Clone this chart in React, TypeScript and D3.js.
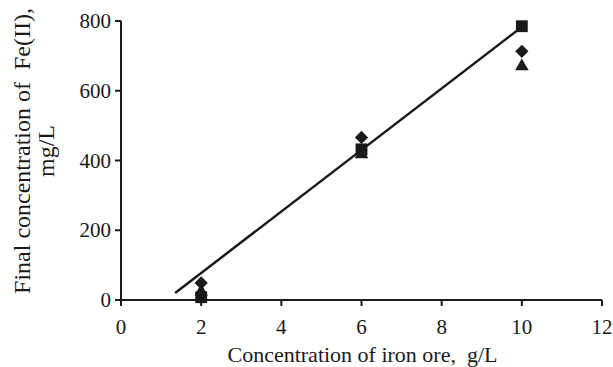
import React from 'react';
import { scaleLinear, symbol, symbolSquare, symbolTriangle, line } from 'd3';

const W = 613;
const H = 367;

// ore concentration, g/L
const categories = [2, 6, 10];
// final Fe(II), mg/L
const seriesDiamond = [49, 466, 713];
const seriesSquare = [8, 432, 785];
const seriesTriangle = [24, 418, 670];
// trend line drawn in the figure
const trendX = [1.35, 10];
const trendY = [20, 783];

const xTicks = [0, 2, 4, 6, 8, 10, 12];
const yTicks = [0, 200, 400, 600, 800];

const margin = { top: 21, right: 11, bottom: 67, left: 121 };

const App = () => {
  const x = scaleLinear().domain([0, 12]).range([margin.left, W - margin.right]);
  const y = scaleLinear().domain([0, 800]).range([H - margin.bottom, margin.top]);
  const font = '"Liberation Serif", "Times New Roman", serif';
  const ink = '#1a1a1a';
  const fs = 21;

  // diamond = square turned 45 degrees, wider than d3's symbolDiamond
  const series = [
    { values: seriesTriangle, path: symbol(symbolTriangle, 80)(), rot: 0 },
    { values: seriesDiamond, path: symbol(symbolSquare, 88)(), rot: 45 },
    { values: seriesSquare, path: symbol(symbolSquare, 140)(), rot: 0 },
  ];

  const trend = line<number>()
    .x((d) => x(d))
    .y((_, i) => y(trendY[i]))(trendX);

  return (
    <svg width={W} height={H} style={{ position: 'absolute', left: 0, top: 0 }} fontFamily={font}>
      <rect width={W} height={H} fill="#fff" />
      {/* axes */}
      <line x1={x(0)} x2={x(12)} y1={y(0)} y2={y(0)} stroke={ink} strokeWidth={2} />
      <line x1={x(0)} x2={x(0)} y1={y(0)} y2={y(800)} stroke={ink} strokeWidth={2} />
      {xTicks.map((t) => (
        <g key={`x${t}`}>
          <line x1={x(t)} x2={x(t)} y1={y(0)} y2={y(0) + 6} stroke={ink} strokeWidth={2} />
          <text x={x(t)} y={y(0) + 34} textAnchor="middle" fontSize={fs} fill={ink}>
            {t}
          </text>
        </g>
      ))}
      {yTicks.map((t) => (
        <g key={`y${t}`}>
          <line x1={x(0) - 6} x2={x(0)} y1={y(t)} y2={y(t)} stroke={ink} strokeWidth={2} />
          <text x={x(0) - 10} y={y(t) + 7} textAnchor="end" fontSize={fs} fill={ink}>
            {t}
          </text>
        </g>
      ))}
      {/* trend line */}
      <path d={trend ?? ''} fill="none" stroke={ink} strokeWidth={2.5} />
      {/* markers */}
      {series.map((s, si) =>
        s.values.map((v, i) => (
          <path
            key={`${si}-${i}`}
            d={s.path ?? ''}
            transform={`translate(${x(categories[i])},${y(v)}) rotate(${s.rot})`}
            fill={ink}
          />
        ))
      )}
      {/* titles */}
      <text x={(x(0) + x(12)) / 2 + 1} y={H - 5} textAnchor="middle" fontSize={22} fill={ink} xmlSpace="preserve">
        Concentration of iron ore,  g/L
      </text>
      <g transform={`translate(0,151) rotate(-90)`}>
        <text x={0} y={30} textAnchor="middle" fontSize={24} fill={ink} xmlSpace="preserve">
          Final concentration of  Fe(II),
        </text>
        <text x={0} y={54} textAnchor="middle" fontSize={24} fill={ink}>
          mg/L
        </text>
      </g>
    </svg>
  );
};

export default App;
